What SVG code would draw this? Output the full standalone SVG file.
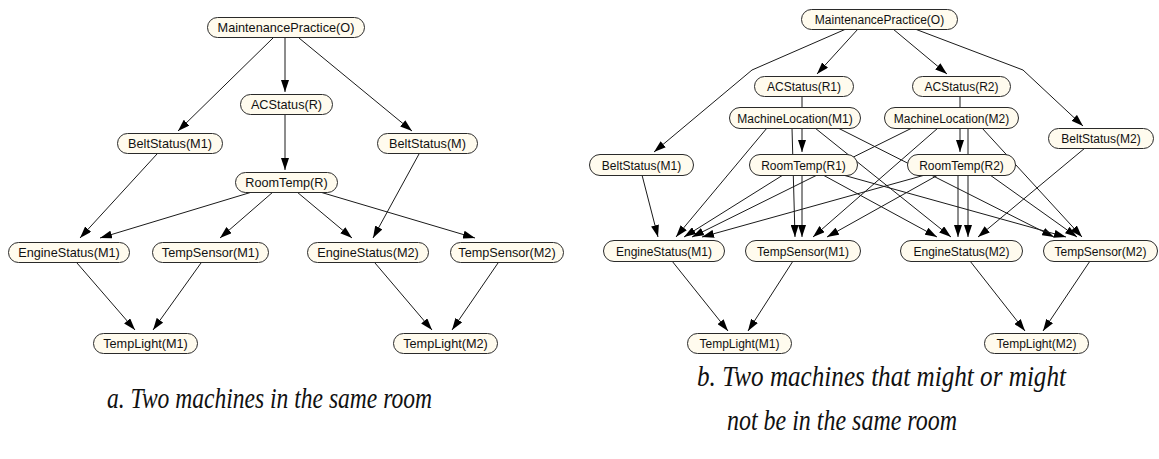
<svg xmlns="http://www.w3.org/2000/svg" width="1159" height="459" viewBox="0 0 1159 459">
  <style>
    .node rect { fill: #fffbee; stroke: #2a2a2a; stroke-width: 1; }
    .node text { font-family: "Liberation Sans", Arial, sans-serif; fill: #111; text-anchor: middle; }
    .pa text { font-size: 12.7px; }
    .pb text { font-size: 12px; }
    .edges line, .edges polyline { stroke: #1a1a1a; stroke-width: 1; fill: none; marker-end: url(#arrow); }
    .caption { font-family: "Liberation Serif", "Times New Roman", serif; font-style: italic; font-size: 30px; fill: #111; }
  </style>
  <defs>
    <marker id="arrow" markerUnits="userSpaceOnUse" markerWidth="12" markerHeight="8" refX="12" refY="4" orient="auto">
      <path d="M0,0 L12,4 L0,8 Z" fill="#000"/>
    </marker>
  </defs>
  <rect width="1159" height="459" fill="#fff"/>

  <!-- Panel a: connectors -->
  <g id="edges-a" class="edges">
    <line x1="285" y1="37" x2="285" y2="92"/>
    <line x1="273" y1="38" x2="178" y2="131"/>
    <line x1="299" y1="38" x2="412" y2="131"/>
    <line x1="285" y1="114" x2="285" y2="170"/>
    <line x1="157" y1="154" x2="80" y2="238"/>
    <line x1="252" y1="192" x2="100" y2="238"/>
    <line x1="273" y1="192" x2="220" y2="238"/>
    <line x1="297" y1="192" x2="352" y2="238"/>
    <line x1="320" y1="192" x2="475" y2="238"/>
    <line x1="419" y1="154" x2="373" y2="238"/>
    <line x1="77" y1="263" x2="135" y2="330"/>
    <line x1="201" y1="263" x2="153" y2="330"/>
    <line x1="375" y1="263" x2="432" y2="330"/>
    <line x1="498" y1="263" x2="452" y2="330"/>
  </g>

  <!-- Panel b: connectors -->
  <g id="edges-b" class="edges">
    <line x1="858" y1="29" x2="817" y2="74"/>
    <line x1="893" y1="29" x2="947" y2="74"/>
    <polyline points="846,29 752,70 654,152"/>
    <polyline points="915,29 1023,70 1083,126"/>
    <line x1="802" y1="96" x2="802" y2="152"/>
    <line x1="960" y1="96" x2="960" y2="152"/>
    <line x1="642" y1="175" x2="658" y2="237"/>
    <line x1="1085" y1="148" x2="978" y2="237"/>
    <line x1="767" y1="128" x2="676" y2="237"/>
    <line x1="792" y1="128" x2="795" y2="237"/>
    <line x1="815" y1="128" x2="951" y2="237"/>
    <line x1="838" y1="128" x2="1054" y2="237"/>
    <line x1="912" y1="128" x2="692" y2="237"/>
    <line x1="938" y1="128" x2="813" y2="237"/>
    <line x1="968" y1="128" x2="968" y2="237"/>
    <line x1="982" y1="128" x2="1082" y2="237"/>
    <line x1="783" y1="175" x2="684" y2="237"/>
    <line x1="802" y1="175" x2="802" y2="237"/>
    <line x1="823" y1="175" x2="937" y2="237"/>
    <line x1="843" y1="175" x2="1066" y2="237"/>
    <line x1="925" y1="175" x2="702" y2="237"/>
    <line x1="938" y1="175" x2="827" y2="237"/>
    <line x1="958" y1="175" x2="958" y2="237"/>
    <line x1="990" y1="175" x2="1077" y2="237"/>
    <line x1="672" y1="261" x2="728" y2="331"/>
    <line x1="793" y1="261" x2="748" y2="331"/>
    <line x1="970" y1="261" x2="1025" y2="331"/>
    <line x1="1090" y1="261" x2="1043" y2="331"/>
  </g>

  <!-- Panel a: nodes -->
  <g class="pa">
    <g id="a-maintenance" class="node"><rect x="207.5" y="17.5" width="157" height="20" rx="10"/><text x="286" y="32">MaintenancePractice(O)</text></g>
    <g id="a-acstatus" class="node"><rect x="240.5" y="94.5" width="92" height="20" rx="10"/><text x="286.5" y="109">ACStatus(R)</text></g>
    <g id="a-beltstatus-m1" class="node"><rect x="117.5" y="133.5" width="105" height="20" rx="10"/><text x="170" y="148">BeltStatus(M1)</text></g>
    <g id="a-roomtemp" class="node"><rect x="235.5" y="172.5" width="102" height="20" rx="10"/><text x="286.5" y="187">RoomTemp(R)</text></g>
    <g id="a-beltstatus-m" class="node"><rect x="377.5" y="133.5" width="100" height="20" rx="10"/><text x="427.5" y="148">BeltStatus(M)</text></g>
    <g id="a-enginestatus-m1" class="node"><rect x="8.5" y="242.5" width="121" height="20" rx="10"/><text x="69" y="257">EngineStatus(M1)</text></g>
    <g id="a-tempsensor-m1" class="node"><rect x="152.5" y="242.5" width="116" height="20" rx="10"/><text x="210.5" y="257">TempSensor(M1)</text></g>
    <g id="a-enginestatus-m2" class="node"><rect x="307.5" y="242.5" width="121" height="20" rx="10"/><text x="368" y="257">EngineStatus(M2)</text></g>
    <g id="a-tempsensor-m2" class="node"><rect x="450.5" y="242.5" width="113" height="20" rx="10"/><text x="507" y="257">TempSensor(M2)</text></g>
    <g id="a-templight-m1" class="node"><rect x="93.5" y="333.5" width="104" height="20" rx="10"/><text x="145.5" y="348">TempLight(M1)</text></g>
    <g id="a-templight-m2" class="node"><rect x="393.5" y="333.5" width="104" height="20" rx="10"/><text x="445.5" y="348">TempLight(M2)</text></g>
  </g>

  <!-- Panel b: nodes -->
  <g class="pb">
    <g id="b-maintenance" class="node"><rect x="801.5" y="9.5" width="156" height="20" rx="10"/><text x="879.5" y="24">MaintenancePractice(O)</text></g>
    <g id="b-acstatus-r1" class="node"><rect x="754.5" y="76.5" width="99" height="20" rx="10"/><text x="804" y="91">ACStatus(R1)</text></g>
    <g id="b-acstatus-r2" class="node"><rect x="912.5" y="76.5" width="98" height="20" rx="10"/><text x="961.5" y="91">ACStatus(R2)</text></g>
    <g id="b-machinelocation-m1" class="node"><rect x="729.5" y="107.5" width="131" height="21" rx="10.5"/><text x="795" y="122.5">MachineLocation(M1)</text></g>
    <g id="b-machinelocation-m2" class="node"><rect x="884.5" y="107.5" width="134" height="21" rx="10.5"/><text x="951.5" y="122.5">MachineLocation(M2)</text></g>
    <g id="b-beltstatus-m1" class="node"><rect x="589.5" y="154.5" width="104" height="21" rx="10.5"/><text x="641.5" y="169.5">BeltStatus(M1)</text></g>
    <g id="b-roomtemp-r1" class="node"><rect x="749.5" y="154.5" width="108" height="21" rx="10.5"/><text x="803.5" y="169.5">RoomTemp(R1)</text></g>
    <g id="b-roomtemp-r2" class="node"><rect x="907.5" y="154.5" width="108" height="21" rx="10.5"/><text x="961.5" y="169.5">RoomTemp(R2)</text></g>
    <g id="b-beltstatus-m2" class="node"><rect x="1048.5" y="128.5" width="105" height="20" rx="10"/><text x="1101" y="143">BeltStatus(M2)</text></g>
    <g id="b-enginestatus-m1" class="node"><rect x="603.5" y="240.5" width="121" height="21" rx="10.5"/><text x="664" y="255.5">EngineStatus(M1)</text></g>
    <g id="b-tempsensor-m1" class="node"><rect x="745.5" y="240.5" width="115" height="21" rx="10.5"/><text x="803" y="255.5">TempSensor(M1)</text></g>
    <g id="b-enginestatus-m2" class="node"><rect x="900.5" y="240.5" width="122" height="21" rx="10.5"/><text x="961.5" y="255.5">EngineStatus(M2)</text></g>
    <g id="b-tempsensor-m2" class="node"><rect x="1043.5" y="240.5" width="114" height="21" rx="10.5"/><text x="1100.5" y="255.5">TempSensor(M2)</text></g>
    <g id="b-templight-m1" class="node"><rect x="687.5" y="333.5" width="104" height="20" rx="10"/><text x="739.5" y="348">TempLight(M1)</text></g>
    <g id="b-templight-m2" class="node"><rect x="984.5" y="333.5" width="104" height="20" rx="10"/><text x="1036.5" y="348">TempLight(M2)</text></g>
  </g>

  <!-- Captions -->
  <text class="caption" x="107" y="408" textLength="325" lengthAdjust="spacingAndGlyphs">a. Two machines in the same room</text>
  <text class="caption" x="697" y="386" textLength="369" lengthAdjust="spacingAndGlyphs">b. Two machines that might or might</text>
  <text class="caption" x="727" y="430" textLength="230" lengthAdjust="spacingAndGlyphs">not be in the same room</text>
</svg>
